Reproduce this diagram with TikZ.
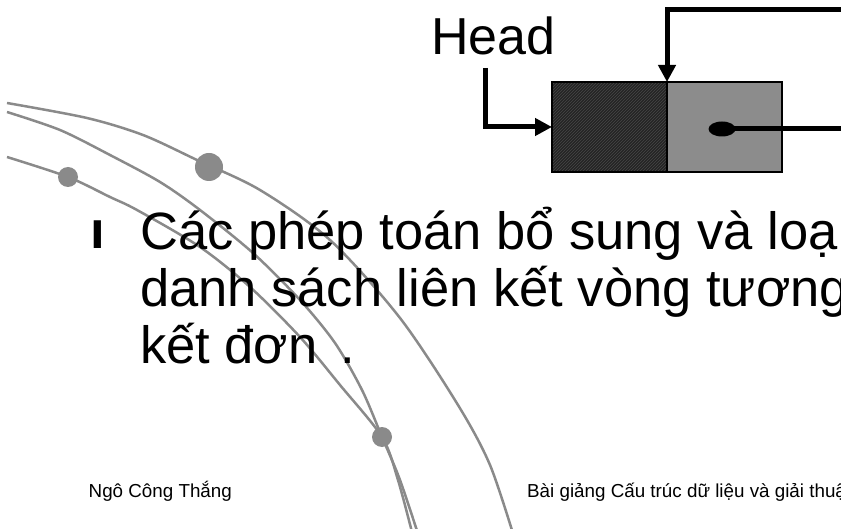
\documentclass[tikz,border=0pt]{standalone}
\usepackage{fontspec}
\setmainfont{Liberation Sans}
\usetikzlibrary{positioning, arrows.meta, patterns, shapes.geometric}

\definecolor{arcgray}{HTML}{8A8A8A}
\definecolor{cellgray}{HTML}{8C8C8C}

\begin{document}
\begin{tikzpicture}[x=1pt, y=-1pt,
		cell/.style={draw=black, line width=2pt, minimum width=115pt, minimum height=90pt, inner sep=0pt, outer sep=0pt},
		link/.style={line width=5pt, >={Triangle[length=17pt, width=17pt]}},
		arc/.style={arcgray, line width=2.5pt},
		big/.style={font=\fontsize{52.5}{56}\selectfont, inner sep=0pt, anchor=base west},
		small/.style={font=\fontsize{18.8}{22}\selectfont, inner sep=0pt, anchor=base west}]

			\useasboundingbox (0,0) rectangle (841,529);
			\clip (0,0) rectangle (841,529);
			
			% arcs in the background
			\draw[arc] plot[smooth] coordinates {(7,103) (87,118) (143,135) (197,160) (260,190) (330,240) (400,318) (458,405) (490,465) (515,540)};
			\draw[arc] plot[smooth] coordinates {(7,112) (60,130) (110,155) (160,182) (200,210) (253,253) (300,300) (335,343) (362,390) (382,437) (400,480) (420,540)};
			\draw[arc] plot[smooth] coordinates {(7,157) (68,177) (110,197) (137,210) (200,247) (250,287) (300,337) (340,385) (382,437) (398,480) (414,540)};
			\fill[arcgray] (209,167) circle (14pt);
			\fill[arcgray] (68,177) circle (10pt);
			\fill[arcgray] (382,437) circle (10pt);
			
			\node[cell, anchor=north west, preaction={fill=black!86}, pattern=north east lines, pattern color=black!72] (data) at (552,82) {};
			\node[cell, fill=cellgray, right=0pt of data] (next) {};
			\node[ellipse, fill=black, minimum width=27pt, minimum height=15pt, inner sep=0pt] (ptr) at ([xshift=-2.5pt, yshift=-2pt]next.center) {};
			\node[big, font=\fontsize{52}{56}\selectfont] (head) at (431,55) {Head};
			
			\coordinate (hstart) at (485,68);
			\coordinate (back) at (850,10);
			\coordinate (out) at (850,129);
			
			\draw[link, ->] (hstart) |- (data.west);
			\draw[link, ->] (back) -| (data.north east);
			\draw[link] (ptr.center) -- (out);
			
			\node[big] (bullet) at (90,249) {\textbf{ı}};
			\node[big] (line1) at (140,250) {Các phép toán bổ sung và loạ};
			\node[big] (line2) at (140,307) {danh sách liên kết vòng tương};
			\node[big] (line3) at (140,363) {kết đơn\, .};
			
			\node[small] (author) at (88.5,497) {Ngô Công Thắng};
			\node[small] (course) at (527,497) {Bài giảng Cấu trúc dữ liệu và giải thuậ};
			
			\end{tikzpicture}
\end{document}
